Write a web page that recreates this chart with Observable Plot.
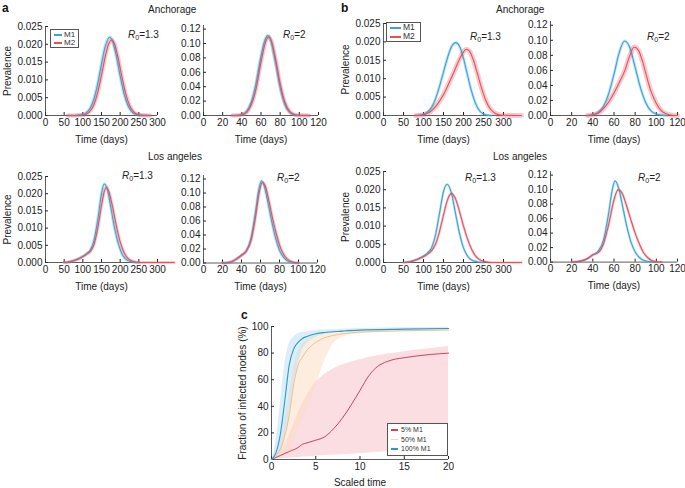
<!DOCTYPE html>
<html><head><meta charset="utf-8">
<script src="https://cdn.jsdelivr.net/npm/d3@7"></script>
<script src="https://cdn.jsdelivr.net/npm/@observablehq/plot@0.6"></script>
<style>
body{margin:0;background:#fff;font-family:"Liberation Sans",Arial,sans-serif;}
#fig{position:relative;width:685px;height:488px;overflow:hidden;background:#fff}
#fig > svg{position:absolute;overflow:visible}
.t{position:absolute;font-size:10px;color:#222;white-space:nowrap;line-height:1}
.t sub{font-size:7px;vertical-align:-2px;line-height:0}
.pl{position:absolute;font-weight:bold;font-size:12px;color:#111;line-height:1}
.leg{position:absolute;border:0.8px solid #555;background:#fff;box-sizing:border-box}
.leg .lt{position:absolute;white-space:nowrap;line-height:1;color:#333}
.leg .sw{position:absolute;height:1.3px}
</style></head><body><div id="fig"></div>
<script>
// ---------- data ----------
const tickTimeLong = [0,50,100,150,200,250,300];
const tickTimeShort = [0,20,40,60,80,100,120];
const tickPrev13 = [0,0.005,0.010,0.015,0.020,0.025];
const tickPrev2 = [0,0.02,0.04,0.06,0.08,0.10,0.12];

// a – Anchorage, R0=1.3
const aAnc13_M1_t = [60,80,100,110,120,130,140,150,160,172,180,190,200,210,220,230,240,260,280];
const aAnc13_M1_v = [0,0.00002,0.00025,0.0008,0.0021,0.0047,0.009,0.0145,0.0194,0.022,0.0208,0.0166,0.0111,0.0063,0.003,0.0012,0.0004,0.00003,0];
const aAnc13_M2_t = [60,80,100,110,120,130,140,150,160,170,177,185,195,205,215,225,235,245,260,280];
const aAnc13_M2_v = [0,0.00001,0.00012,0.00043,0.00126,0.0031,0.0065,0.0113,0.0165,0.0203,0.0212,0.0201,0.016,0.0107,0.0061,0.0029,0.00114,0.00038,0.00005,0];
// a – Anchorage, R0=2
const aAnc2_M1_t = [30,35,40,45,50,55,60,64,67,70,75,80,85,90,95,100,110];
const aAnc2_M1_v = [0,0.0002,0.0012,0.0056,0.0187,0.0455,0.082,0.104,0.111,0.105,0.0748,0.039,0.015,0.0042,0.0009,0.0001,0];
const aAnc2_M2_t = [30,35,40,45,50,55,60,65,68,71,75,80,85,90,95,100,110];
const aAnc2_M2_v = [0,0.0001,0.0009,0.0043,0.0152,0.038,0.074,0.103,0.109,0.103,0.080,0.044,0.018,0.0054,0.0013,0.0002,0];
// a – Los angeles, R0=1.3
const aLA13_M1_t = [50,60,75,90,100,110,120,130,140,150,157,165,175,185,195,205,215,230,250];
const aLA13_M1_v = [0,0.0001,0.0005,0.0012,0.0018,0.0026,0.0036,0.0065,0.0125,0.0200,0.0228,0.0215,0.0160,0.0100,0.0055,0.0025,0.001,0.0002,0];
const aLA13_M2_t = [50,60,75,90,100,110,120,130,140,150,157,163,170,180,190,200,210,220,235,250,300,345];
const aLA13_M2_v = [0,0.0001,0.0005,0.0011,0.0017,0.0024,0.0032,0.0052,0.0100,0.0165,0.0205,0.0218,0.0205,0.0160,0.0105,0.006,0.003,0.0013,0.0003,0,0,0];
// a – Los angeles, R0=2
const aLA2_M1_t = [20,25,30,35,40,45,50,55,58,61,64,68,72,76,80,85,90,95,100];
const aLA2_M1_v = [0,0.0005,0.002,0.006,0.011,0.017,0.035,0.075,0.103,0.117,0.110,0.085,0.058,0.035,0.018,0.007,0.002,0.0005,0];
const aLA2_M2_t = [20,25,30,35,40,45,50,55,58,62,65,69,73,77,81,86,91,96,100];
const aLA2_M2_v = [0,0.0004,0.002,0.006,0.011,0.017,0.032,0.068,0.096,0.115,0.110,0.088,0.062,0.040,0.022,0.009,0.003,0.0007,0];
// b – Anchorage, R0=1.3
const bAnc13_M1_t = [80,100,110,120,130,140,150,160,170,181,190,200,210,220,230,240,250,260,270];
const bAnc13_M1_v = [0,0.0003,0.0009,0.0022,0.0045,0.0079,0.0118,0.0157,0.0187,0.0198,0.0188,0.0155,0.0110,0.0066,0.0033,0.0013,0.0004,0.0001,0];
const bAnc13_M2_t = [80,100,110,120,130,140,150,160,170,180,190,200,207,215,225,235,245,255,265,275,285,300,345];
const bAnc13_M2_v = [0,0.0002,0.0006,0.0013,0.0024,0.0039,0.0057,0.0079,0.0103,0.0128,0.0153,0.0173,0.0180,0.0175,0.0150,0.0113,0.0075,0.0043,0.0021,0.0009,0.0003,0.00005,0];
// b – Anchorage, R0=2
const bAnc2_M1_t = [35,40,45,50,55,60,65,70,75,80,85,90,95,100,105,110];
const bAnc2_M1_v = [0,0.001,0.004,0.012,0.029,0.055,0.084,0.099,0.090,0.064,0.037,0.017,0.006,0.002,0.0005,0];
const bAnc2_M2_t = [35,40,45,50,55,60,65,70,75,79,83,87,91,95,100,105,110,115,120];
const bAnc2_M2_v = [0,0.0008,0.003,0.009,0.018,0.030,0.044,0.059,0.080,0.091,0.087,0.072,0.051,0.032,0.016,0.006,0.002,0.0004,0];
// b – Los angeles, R0=1.3
const bLA13_M1_t = [50,60,75,90,100,110,120,130,140,150,159,170,180,190,200,210,220,235,250];
const bLA13_M1_v = [0,0.0001,0.0005,0.0012,0.0018,0.0026,0.0040,0.0075,0.0135,0.0195,0.0215,0.0190,0.0135,0.0080,0.0040,0.0018,0.0007,0.0002,0];
const bLA13_M2_t = [50,60,75,90,100,110,120,130,140,150,160,170,180,190,200,210,220,230,240,255,270,345];
const bLA13_M2_v = [0,0.0001,0.0005,0.0011,0.0016,0.0023,0.0032,0.0050,0.0085,0.0130,0.0172,0.0190,0.0175,0.0140,0.0100,0.0065,0.0037,0.0018,0.0008,0.0002,0,0];
// b – Los angeles, R0=2
const bLA2_M1_t = [20,25,30,35,40,45,50,55,58,61,64,68,72,76,80,85,90,95,100];
const bLA2_M1_v = [0,0.0005,0.002,0.005,0.010,0.015,0.030,0.068,0.097,0.112,0.104,0.078,0.050,0.028,0.014,0.005,0.0015,0.0003,0];
const bLA2_M2_t = [20,25,30,35,40,45,50,55,60,64,68,72,76,80,84,88,92,96,100,105];
const bLA2_M2_v = [0,0.0005,0.002,0.005,0.010,0.013,0.025,0.052,0.086,0.100,0.094,0.077,0.058,0.040,0.025,0.013,0.006,0.002,0.0005,0];

// c – fraction of infected nodes (%)
const cTicksX = [0,5,10,15,20];
const cTicksY = [0,20,40,60,80,100];
const c5_t = [0,1,2,3,3.5,4,5,6,7,8,9,10,11,12,13,14,15,16,17,18,19,20];
const c5_v = [0,3,6,9,11.5,12.5,14.5,17,23,31,41,52,63,70,73.5,75.5,76.5,77.5,78.3,79,79.5,80];
const c5_bt = [0,1,2,3,4,5,6,7,8,10,12,14,16,18,20];
const c5_lo = [0,0.5,1,1.5,2,2.5,3,3.3,3.6,4.5,5.5,6.2,6.8,7.4,8];
const c5_hi = [0,5,18,35,48,58,64,68,71,75,78,80,82,83.5,85];
const c50_t = [0,0.5,1,1.5,2,2.5,3,3.5,4,5,6,7,8,10,12,15,20];
const c50_v = [0,3,8,18,33,56,71,77,82,88,91.5,93.3,94.5,95.8,96.3,96.8,97.3];
const c50_bt = [0,1,2,2.5,3,3.5,4,5,6,7,8,10,15,20];
const c50_lo = [0,2,6,14,22,30,38,55,74,87,92,94.5,96,97];
const c50_hi = [0,15,50,70,82,87,90,94,95.5,96.5,97,97.5,98,98.5];
const c100_t = [0,0.5,1,1.5,2,2.5,3,3.5,4,5,6,8,10,15,20];
const c100_v = [0,5,19,44,71,83,88,91,92.5,94.5,95.5,96.5,97.3,98,98.5];
const c100_bt = [0,0.5,1,1.5,2,2.5,3,3.5,4,5,6,8,10,15,20];
const c100_lo = [0,1,4,14,32,55,72,82,87,92,94,96,97,97.5,98];
const c100_hi = [0,13,42,72,87,92,94.5,95.5,96,97,97.5,98,98.5,99,99.5];

// ---------- helpers ----------
const BLUE = "#3aa3d6", RED = "#e8505a";
const C5 = "#d2405e", C50 = "#f0c090", C100 = "#2a9bcb";
const fig = document.getElementById("fig");
const zip = (t, v) => t.map((x, i) => ({x, y: v[i]}));
const band = (t, lo, hi) => t.map((x, i) => ({x, lo: lo[i], hi: hi[i]}));
function place(el, left, top) { el.style.left = left + "px"; el.style.top = top + "px"; fig.appendChild(el); }
function html(cls, content, left, top) {
  const d = document.createElement("div"); d.className = cls; d.innerHTML = content;
  place(d, left, top); return d;
}
const STYLE = {fontFamily: "'Liberation Sans', Arial, sans-serif", fontSize: "10px", color: "#222", background: "transparent"};

function small(o) {
  const mL = 46, mR = 24, mT = 6, mB = 32;
  const w = o.x1 - o.x0 + mL + mR, h = o.yb - o.yt + mT + mB;
  const m1 = zip(o.m1t, o.m1v), m2 = zip(o.m2t, o.m2v);
  const p = Plot.plot({
    width: w, height: h, marginLeft: mL, marginRight: mR, marginTop: mT, marginBottom: mB,
    style: STYLE,
    x: {domain: o.xd}, y: {domain: o.yd},
    marks: [
      Plot.axisX({ticks: o.xt, tickFormat: d3.format("d"), tickSize: -3, tickPadding: 6, label: "Time (days)", labelAnchor: "center", labelArrow: "none", labelOffset: 27}),
      Plot.axisY({ticks: o.yt2, tickFormat: d3.format(o.yf), tickSize: -3, tickPadding: 6, label: o.ylab ? "Prevalence" : null, labelAnchor: "center", labelArrow: "none", labelOffset: 42}),
      Plot.ruleY([o.yd[0]], {stroke: "#333", strokeWidth: 0.8}),
      Plot.ruleX([o.xd[0]], {stroke: "#333", strokeWidth: 0.8}),
      Plot.line(m1, {x: "x", y: "y", stroke: BLUE, strokeWidth: o.bw1, strokeOpacity: 0.3, curve: "monotone-x"}),
      Plot.line(m2, {x: "x", y: "y", stroke: RED, strokeWidth: o.bw2, strokeOpacity: 0.3, curve: "monotone-x"}),
      Plot.line(m1, {x: "x", y: "y", stroke: BLUE, strokeWidth: 1.1, curve: "monotone-x"}),
      Plot.line(m2, {x: "x", y: "y", stroke: RED, strokeWidth: 1.1, curve: "monotone-x"})
    ]
  });
  place(p, o.x0 - mL, o.yt - mT);
  html("t", o.r0, o.rx, o.ry - 5);
}
const r13 = "<i>R</i><sub>0</sub>=1.3", r2 = "<i>R</i><sub>0</sub>=2";
const L13 = {xd: [0, 300], xt: tickTimeLong, yd: [0, 0.025], yt2: tickPrev13, yf: ".3f", ylab: true, r0: r13};
const R2 = {xd: [0, 120], xt: tickTimeShort, yd: [0, 0.125], yt2: tickPrev2, yf: ".2f", ylab: false, r0: r2};

small({...L13, x0: 45, x1: 157, yt: 26, yb: 115, m1t: aAnc13_M1_t, m1v: aAnc13_M1_v, m2t: aAnc13_M2_t, m2v: aAnc13_M2_v, bw1: 3.5, bw2: 4, rx: 128, ry: 35});
small({...R2, x0: 203, x1: 318, yt: 25, yb: 115, m1t: aAnc2_M1_t, m1v: aAnc2_M1_v, m2t: aAnc2_M2_t, m2v: aAnc2_M2_v, bw1: 3.5, bw2: 4, rx: 283, ry: 35});
small({...L13, x0: 383, x1: 503, yt: 23, yb: 115, m1t: bAnc13_M1_t, m1v: bAnc13_M1_v, m2t: bAnc13_M2_t, m2v: bAnc13_M2_v, bw1: 3, bw2: 5, rx: 470, ry: 37});
small({...R2, x0: 550, x1: 677, yt: 21, yb: 115, m1t: bAnc2_M1_t, m1v: bAnc2_M1_v, m2t: bAnc2_M2_t, m2v: bAnc2_M2_v, bw1: 3, bw2: 5, rx: 647, ry: 37});
small({...L13, x0: 45, x1: 157, yt: 176, yb: 262, m1t: aLA13_M1_t, m1v: aLA13_M1_v, m2t: aLA13_M2_t, m2v: aLA13_M2_v, bw1: 3, bw2: 3, rx: 122, ry: 176});
small({...R2, x0: 203, x1: 317, yt: 174.5, yb: 262, m1t: aLA2_M1_t, m1v: aLA2_M1_v, m2t: aLA2_M2_t, m2v: aLA2_M2_v, bw1: 3, bw2: 3, rx: 277, ry: 178});
small({...L13, x0: 383, x1: 503, yt: 171, yb: 262, m1t: bLA13_M1_t, m1v: bLA13_M1_v, m2t: bLA13_M2_t, m2v: bLA13_M2_v, bw1: 2.5, bw2: 2.5, rx: 465, ry: 178});
small({...R2, x0: 550, x1: 677, yt: 171.4, yb: 262, m1t: bLA2_M1_t, m1v: bLA2_M1_v, m2t: bLA2_M2_t, m2v: bLA2_M2_v, bw1: 2.5, bw2: 2.5, rx: 638, ry: 178});

// titles and panel letters
function centered(text, cx, cy) { const d = html("t", text, 0, cy - 5); d.style.left = (cx - d.offsetWidth / 2) + "px"; }
centered("Anchorage", 172, 10);
centered("Anchorage", 520, 10);
centered("Los angeles", 175, 157);
centered("Los angeles", 520, 157);
html("pl", "a", 2, 2);
html("pl", "b", 341, 2);
html("pl", "c", 241, 309);

// legends
function legend(left, top, w, h, fs, rows) {
  const d = document.createElement("div"); d.className = "leg";
  d.style.width = w + "px"; d.style.height = h + "px"; d.style.fontSize = fs + "px";
  rows.forEach(r => {
    const sw = document.createElement("div"); sw.className = "sw";
    sw.style.left = r.sx + "px"; sw.style.width = r.sl + "px"; sw.style.top = (r.y - 0.6) + "px";
    sw.style.backgroundColor = r.c;
    d.appendChild(sw);
    const tx = document.createElement("div"); tx.className = "lt"; tx.textContent = r.label;
    tx.style.left = r.tx + "px"; tx.style.top = (r.y - fs / 2 - 0.5) + "px";
    d.appendChild(tx);
  });
  place(d, left, top);
}
legend(50, 29, 29, 19, 8, [{label: "M1", c: BLUE, sx: 3, sl: 8, tx: 13, y: 5}, {label: "M2", c: RED, sx: 3, sl: 8, tx: 13, y: 13}]);
legend(386, 22, 35, 20, 8.5, [{label: "M1", c: BLUE, sx: 3, sl: 11, tx: 16, y: 5}, {label: "M2", c: RED, sx: 3, sl: 11, tx: 16, y: 14}]);

// panel c
{
  const mL = 40, mR = 12, mT = 8, mB = 30;
  const x0 = 271, x1 = 448, yt = 326, yb = 459;
  const p = Plot.plot({
    width: x1 - x0 + mL + mR, height: yb - yt + mT + mB,
    marginLeft: mL, marginRight: mR, marginTop: mT, marginBottom: mB,
    style: STYLE,
    x: {domain: [0, 20]}, y: {domain: [0, 100]},
    marks: [
      Plot.areaY(band(c5_bt, c5_lo, c5_hi), {x: "x", y1: "lo", y2: "hi", fill: "#f6c3ca", fillOpacity: 0.55, curve: "monotone-x"}),
      Plot.areaY(band(c50_bt, c50_lo, c50_hi), {x: "x", y1: "lo", y2: "hi", fill: "#fcdcc0", fillOpacity: 0.5, curve: "monotone-x"}),
      Plot.areaY(band(c100_bt, c100_lo, c100_hi), {x: "x", y1: "lo", y2: "hi", fill: "#bfe0f2", fillOpacity: 0.55, curve: "monotone-x"}),
      Plot.axisX({ticks: cTicksX, tickSize: -3, tickPadding: 6, label: "Scaled time", labelAnchor: "center", labelArrow: "none", labelOffset: 26}),
      Plot.axisY({ticks: cTicksY, tickSize: -3, tickPadding: 6, label: "Fraction of infected nodes (%)", labelAnchor: "center", labelArrow: "none", labelOffset: 33}),
      Plot.ruleY([0], {stroke: "#333", strokeWidth: 0.8}),
      Plot.ruleX([0], {stroke: "#333", strokeWidth: 0.8}),
      Plot.line(zip(c5_t, c5_v), {x: "x", y: "y", stroke: C5, strokeWidth: 1, curve: "monotone-x"}),
      Plot.line(zip(c50_t, c50_v), {x: "x", y: "y", stroke: C50, strokeWidth: 1, curve: "monotone-x"}),
      Plot.line(zip(c100_t, c100_v), {x: "x", y: "y", stroke: C100, strokeWidth: 1.1, curve: "monotone-x"})
    ]
  });
  place(p, x0 - mL, yt - mT);
  legend(387, 423, 61, 33, 7, [
    {label: "5% M1", c: C5, sx: 3, sl: 7, tx: 13, y: 6},
    {label: "50% M1", c: "#f5d8b8", sx: 3, sl: 7, tx: 13, y: 15.5},
    {label: "100% M1", c: C100, sx: 3, sl: 7, tx: 13, y: 25}
  ]);
}
</script></body></html>
